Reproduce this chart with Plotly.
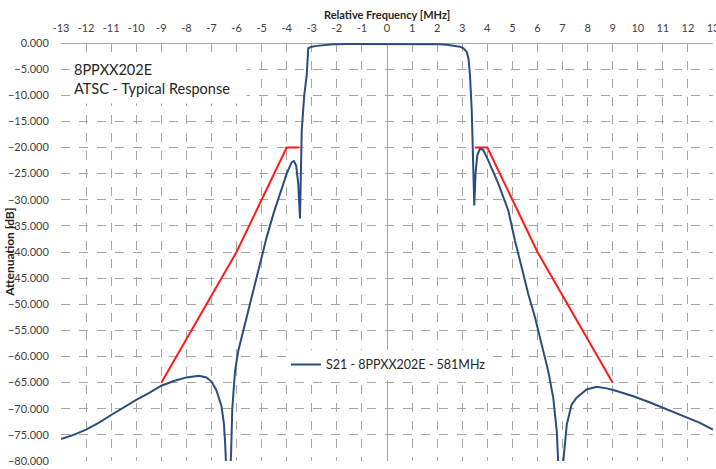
import plotly.graph_objects as go

# ---- data ----
freq_mhz = [-13.0, -12.5, -12.0, -11.5, -11.0, -10.5, -10.0, -9.5, -9.0, -8.5, -8.0, -7.5,
            -7.2, -7.0, -6.8, -6.6, -6.5, -6.45, -6.4, -6.34, -6.28, -6.22, -6.17, -6.06,
            -5.93, -5.73, -5.46, -5.26, -5.0, -4.8, -4.53, -4.27, -4.0, -3.8, -3.71, -3.62,
            -3.54, -3.47, -3.43, -3.40, -3.30, -3.20, -3.14, -3.05, -3.0, -2.8, -2.54, -2.14,
            -1.5, 0.0, 1.5, 2.14, 2.38, 2.7, 2.91, 3.05, 3.18, 3.25, 3.31, 3.38, 3.43, 3.48,
            3.53, 3.6, 3.71, 3.84, 4.04, 4.44, 4.84, 5.10, 5.37, 5.63, 5.90, 6.17, 6.43, 6.63,
            6.77, 6.83, 6.9, 6.97, 7.03, 7.17, 7.36, 7.56, 7.96, 8.36, 8.76, 9.09, 9.82, 10.49,
            11.15, 11.81, 12.48, 13.0]
s21_db = [-75.8, -75.0, -74.0, -72.7, -71.2, -69.7, -68.3, -67.0, -65.6, -64.7, -64.0, -63.7,
          -64.0, -64.8, -66.5, -69.5, -73.0, -77.0, -82.0, -90.0, -84.0, -79.0, -70.0, -62.8,
          -58.9, -55.1, -49.9, -46.1, -41.0, -37.2, -32.7, -28.8, -25.0, -22.8, -22.6, -23.5,
          -26.9, -33.6, -25.0, -16.7, -10.0, -6.1, -1.0, -0.8, -0.7, -0.55, -0.4, -0.25,
          -0.2, -0.2, -0.2, -0.25, -0.35, -0.5, -0.7, -1.0, -1.7, -3.0, -6.1, -13.0, -20.0, -31.1,
          -25.0, -21.5, -20.2, -20.5, -22.5, -26.9, -32.1, -37.8, -42.9, -48.0, -52.5, -57.6, -62.8, -67.9,
          -74.3, -80.6, -90.0, -85.0, -80.0, -73.0, -69.2, -67.9, -66.3, -65.8, -66.1, -66.5, -67.6, -68.8,
          -70.1, -71.4, -72.7, -74.0]

mask_freq = [-9.0, -6.0, -4.0, -3.5, None, 3.5, 4.0, 6.0, 9.0]
mask_db = [-65.0, -40.0, -20.0, -20.0, None, -20.0, -20.0, -40.0, -65.0]

x_ticks = list(range(-13, 14))
y_ticks = list(range(-80, 1, 5))

series_name = "S21 - 8PPXX202E - 581MHz"
chart_note = "8PPXX202E<br>ATSC - Typical Response"
x_title = "<b>Relative Frequency [MHz]</b>"
y_title = "<b>Attenuation [dB]</b>"

FONT = "Lato"

fig = go.Figure()
fig.add_trace(go.Scatter(x=mask_freq, y=mask_db, mode="lines",
                         line=dict(color="#FF1A1A", width=2), showlegend=False,
                         connectgaps=False))
fig.add_trace(go.Scatter(x=freq_mhz, y=s21_db, mode="lines", name=series_name,
                         line=dict(color="#2B4C80", width=2)))

fig.update_layout(
    width=716, height=469,
    margin=dict(l=61, r=3, t=43, b=8, autoexpand=False),
    paper_bgcolor="white", plot_bgcolor="white",
    font=dict(family=FONT, size=11, color="#404040"),
    showlegend=True,
    legend=dict(x=0.345, y=0.266, xanchor="left", yanchor="top",
                bgcolor="white", font=dict(family=FONT, size=12.5, color="#262626"),
                itemwidth=30, tracegroupgap=0),
    annotations=[
        dict(text=chart_note, xref="paper", yref="paper",
             x=0.016, y=0.914, xanchor="left", yanchor="middle",
             align="left", showarrow=False, bgcolor="white",
             width=170, height=44, borderpad=2,
             font=dict(family=FONT, size=14.5, color="#262626")),
        dict(text=x_title, xref="paper", yref="paper", x=0.5, y=1.069,
             xanchor="center", yanchor="middle", showarrow=False,
             font=dict(family=FONT, size=11, color="#262626")),
        dict(text=y_title, xref="paper", yref="paper", x=-0.08, y=0.5,
             xanchor="center", yanchor="middle", showarrow=False, textangle=-90,
             font=dict(family=FONT, size=12, color="#262626")),
    ],
)
fig.update_xaxes(
    side="top", range=[-13, 13], tickvals=x_ticks, ticktext=[str(v) for v in x_ticks],
    showgrid=True, gridcolor="#A6A6A6", griddash="dash", gridwidth=1,
    zeroline=True, zerolinecolor="#A6A6A6", zerolinewidth=1,
    showline=False, ticks="outside", ticklen=6, tickcolor="white", automargin=False,
    ticklabeloverflow="allow",
)
fig.update_yaxes(
    range=[-80, 0], tickvals=y_ticks, tickformat=".3f",
    showgrid=True, gridcolor="#A6A6A6", griddash="dash", gridwidth=1,
    zeroline=True, zerolinecolor="#A6A6A6", zerolinewidth=1,
    showline=False, ticks="outside", ticklen=9, tickcolor="white", automargin=False,
    ticklabeloverflow="allow",
)

fig.write_html("out.html",
               config={"displayModeBar": False},
               post_script="document.body.style.margin='0';document.body.style.overflow='hidden';")
